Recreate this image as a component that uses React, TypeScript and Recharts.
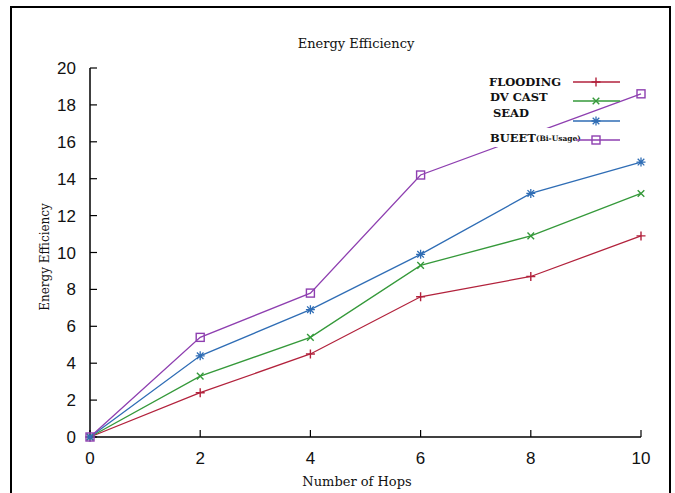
import React from 'react';
import { LineChart, Line, XAxis, YAxis } from 'recharts';

const hops = [0, 2, 4, 6, 8, 10];
const flooding = [0, 2.4, 4.5, 7.6, 8.7, 10.9];
const dvCast = [0, 3.3, 5.4, 9.3, 10.9, 13.2];
const sead = [0, 4.4, 6.9, 9.9, 13.2, 14.9];
const bueet = [0, 5.4, 7.8, 14.2, 16.4, 18.6];
const yTicks = [0, 2, 4, 6, 8, 10, 12, 14, 16, 18, 20];

const seriesNames = ['FLOODING', 'DV CAST', 'SEAD', 'BUEET'];
const colors = ['#b2223c', '#35993a', '#2f6db5', '#8e3fb0'];
const keys = ['flooding', 'dvCast', 'sead', 'bueet'];

const data = hops.map((h, i) => ({
  hops: h,
  flooding: flooding[i],
  dvCast: dvCast[i],
  sead: sead[i],
  bueet: bueet[i],
}));

type MarkerKind = 'plus' | 'cross' | 'star' | 'square';
const kinds: MarkerKind[] = ['plus', 'cross', 'star', 'square'];

function Marker({ cx, cy, kind, color }: { cx: number; cy: number; kind: MarkerKind; color: string }) {
  const s = 4.5;
  const d = 3.3;
  if (kind === 'plus') {
    return <path d={`M${cx - s},${cy}H${cx + s}M${cx},${cy - s}V${cy + s}`} stroke={color} strokeWidth={1.4} fill="none" />;
  }
  if (kind === 'cross') {
    return <path d={`M${cx - d},${cy - d}L${cx + d},${cy + d}M${cx - d},${cy + d}L${cx + d},${cy - d}`} stroke={color} strokeWidth={1.4} fill="none" />;
  }
  if (kind === 'star') {
    return (
      <path
        d={`M${cx - s},${cy}H${cx + s}M${cx},${cy - s}V${cy + s}M${cx - d},${cy - d}L${cx + d},${cy + d}M${cx - d},${cy + d}L${cx + d},${cy - d}`}
        stroke={color}
        strokeWidth={1.3}
        fill="none"
      />
    );
  }
  return <rect x={cx - 4} y={cy - 4} width={8} height={8} stroke={color} strokeWidth={1.4} fill="none" />;
}

const makeDot = (kind: MarkerKind, color: string) => (props: any) => {
  const { cx, cy, index } = props;
  if (cx == null || cy == null) return <g key={`d-${index}`} />;
  return (
    <g key={`d-${kind}-${index}`}>
      <Marker cx={cx} cy={cy} kind={kind} color={color} />
    </g>
  );
};

const serif = '"DejaVu Serif", "Liberation Serif", serif';
const sans = '"Liberation Sans", Arial, sans-serif';

function Overlay() {
  const rows = [
    { y: 82, lineY: 82, textX: 489 },
    { y: 97, lineY: 101, textX: 490 },
    { y: 113, lineY: 121, textX: 493 },
    { y: 138, lineY: 140, textX: 490 },
  ];
  return (
    <svg width={675} height={493} style={{ position: 'absolute', left: 0, top: 0, pointerEvents: 'none' }}>
      <text x={356} y={48} textAnchor="middle" fontFamily={serif} fontSize={13} fill="#111">
        Energy Efficiency
      </text>
      <text x={357} y={486} textAnchor="middle" fontFamily={serif} fontSize={13} fill="#111">
        Number of Hops
      </text>
      <text
        x={0}
        y={0}
        transform="translate(49,257) rotate(-90)"
        textAnchor="middle"
        fontFamily={serif}
        fontSize={12}
        fill="#111"
      >
        Energy Efficiency
      </text>
      <rect x={488} y={128} width={87} height={19} fill="#fff" />
      {rows.map((r, i) => (
        <g key={i}>
          <text
            x={r.textX}
            y={r.y}
            dominantBaseline="central"
            fontFamily={serif}
            fontSize={11.5}
            fontWeight="bold"
            fill="#111"
          >
            {i === 3 ? (
              <>
                BUEET
                <tspan fontSize={7.5}>(Bi-Usage)</tspan>
              </>
            ) : (
              seriesNames[i]
            )}
          </text>
          <line x1={i === 3 ? 576 : 573} x2={620} y1={r.lineY} y2={r.lineY} stroke={colors[i]} strokeWidth={1.4} />
          <Marker cx={596} cy={r.lineY} kind={kinds[i]} color={colors[i]} />
        </g>
      ))}
    </svg>
  );
}

export default function App() {
  return (
    <div style={{ position: 'absolute', left: 0, top: 0, width: 675, height: 493, background: '#fff', overflow: 'hidden' }}>
      <div
        style={{
          position: 'absolute',
          left: 10,
          top: 6,
          width: 661,
          height: 500,
          borderLeft: '2px solid #000',
          borderTop: '2px solid #000',
          borderRight: '2px solid #000',
          boxSizing: 'border-box',
        }}
      />
      <div style={{ position: 'absolute', left: 0, top: 0 }}>
        <LineChart width={675} height={493} data={data} margin={{ top: 68, right: 34, bottom: 0, left: 0 }}>
          <XAxis
            xAxisId="bottom"
            dataKey="hops"
            type="number"
            domain={[0, 10]}
            ticks={hops}
            orientation="bottom"
            height={56}
            tickSize={-7}
            tickMargin={22}
            axisLine={{ stroke: '#000', strokeWidth: 1.5 }}
            tickLine={{ stroke: '#000', strokeWidth: 1.2 }}
            tick={{ fill: '#111', fontFamily: sans, fontSize: 17 }}
            interval={0}
          />
          <XAxis
            xAxisId="top"
            dataKey="hops"
            type="number"
            domain={[0, 10]}
            ticks={hops}
            orientation="top"
            height={0}
            tickSize={-7}
            axisLine={{ stroke: '#000', strokeWidth: 1.5 }}
            tickLine={{ stroke: '#000', strokeWidth: 1.2 }}
            tick={false}
          />
          <YAxis
            yAxisId="left"
            type="number"
            domain={[0, 20]}
            ticks={yTicks}
            width={90}
            tickSize={-7}
            tickMargin={21}
            axisLine={{ stroke: '#000', strokeWidth: 1.5 }}
            tickLine={{ stroke: '#000', strokeWidth: 1.2 }}
            tick={{ fill: '#111', fontFamily: sans, fontSize: 17 }}
            interval={0}
          />
          <YAxis
            yAxisId="right"
            orientation="right"
            type="number"
            domain={[0, 20]}
            ticks={yTicks}
            width={0}
            tickSize={-7}
            axisLine={{ stroke: '#000', strokeWidth: 1.5 }}
            tickLine={{ stroke: '#000', strokeWidth: 1.2 }}
            tick={false}
          />
          {keys.map((k, i) => (
            <Line
              key={k}
              xAxisId="bottom"
              yAxisId="left"
              type="linear"
              dataKey={k}
              stroke={colors[i]}
              strokeWidth={1.3}
              dot={makeDot(kinds[i], colors[i])}
              activeDot={false}
              isAnimationActive={false}
            />
          ))}
        </LineChart>
      </div>
      <Overlay />
    </div>
  );
}
